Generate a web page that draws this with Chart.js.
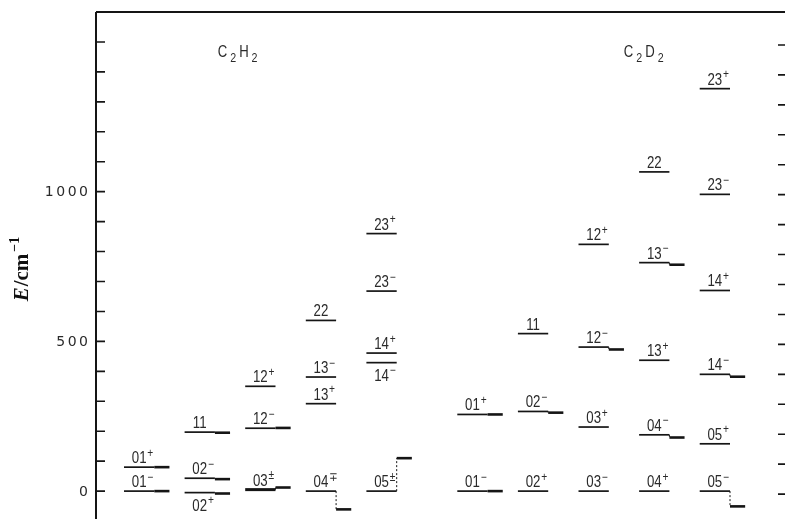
<!DOCTYPE html>
<html>
<head>
<meta charset="utf-8">
<script src="https://cdn.jsdelivr.net/npm/chart.js@4.4.1/dist/chart.umd.min.js"></script>
<style>
  html, body { margin: 0; padding: 0; background: #fff; overflow: hidden; width: 785px; height: 519px; }
  #wrap { position: absolute; left: 0; top: 0; width: 800px; height: 560px; }
</style>
</head>
<body>
<div id="wrap"><canvas id="levels" width="800" height="560"></canvas></div>
<script>
// Torsional / bending level energies (cm^-1) for acetylene and its deuterated form.
// "shifted" is the companion value drawn as the short segment to the right of a level.
const groupTitles = ['C2H2', 'C2D2'];

const h2Label   = ['01+', '01−', '02−', '02+', '11', '03±', '12−', '12+', '04∓', '13+', '13−', '22', '05±', '14−', '14+', '23−', '23+'];
const h2Column  = [0, 0, 1, 1, 1, 2, 2, 2, 3, 3, 3, 3, 4, 4, 4, 4, 4];
const h2Energy  = [80, 0, 43, -5, 197, 5, 210, 350, 0, 292, 381, 570, 0, 429, 461, 668, 860];
const h2Shifted = [80, 0, 40, -8, 195, 12, 211, null, -61, null, null, null, 110, null, null, null, null];
const h2Below   = ['02+', '14−'];

const d2Label   = ['01+', '01−', '02+', '02−', '11', '03−', '03+', '12−', '12+', '04+', '04−', '13+', '13−', '22', '05−', '05+', '14−', '14+', '23−', '23+'];
const d2Column  = [0, 0, 1, 1, 1, 2, 2, 2, 2, 3, 3, 3, 3, 3, 4, 4, 4, 4, 4, 4];
const d2Energy  = [256, 0, 0, 266, 526, 0, 214, 481, 824, 0, 188, 437, 763, 1066, 0, 158, 390, 670, 991, 1344];
const d2Shifted = [256, 0, null, 262, null, null, null, 473, null, null, 179, null, 756, null, -51, null, 382, null, null, null];
const d2Below   = [];

const yTickValues = [0, 500, 1000];
const yTickLabels = ['0', '500', '1000'];

// ---- layout constants (column units on the hidden x scale) ----
const GROUP_OFFSET = [0, 5.5];
const LEVEL_W = 0.5;
const EXT_W = 0.25;
const TITLE_X = [1.9, 8.6];
const INK = '#151515';
const TEXT = '#2a2a2a';
const LABEL_FONT = '"Liberation Sans", "Arimo", "DejaVu Sans", sans-serif';
const NARROW = 0.78;   // horizontal squeeze for the narrow label lettering

const groups = [
  { label: h2Label, col: h2Column, energy: h2Energy, shifted: h2Shifted, below: h2Below },
  { label: d2Label, col: d2Column, energy: d2Energy, shifted: d2Shifted, below: d2Below }
];

const datasets = [];
const labelItems = [];
groups.forEach((g, gi) => {
  g.label.forEach((lab, i) => {
    const x0 = g.col[i] + GROUP_OFFSET[gi];
    const e = g.energy[i];
    // a doubly degenerate pair (±) is drawn as a heavier line
    const degenerate = lab.includes('±') && g.shifted[i] !== null && Math.abs(g.shifted[i] - e) < 20;
    datasets.push({
      data: [{ x: x0, y: e }, { x: x0 + LEVEL_W, y: e }],
      borderColor: INK, borderWidth: degenerate ? 3 : 1.7
    });
    const s = g.shifted[i];
    if (s !== null) {
      datasets.push({
        data: [{ x: x0 + LEVEL_W, y: s }, { x: x0 + LEVEL_W + EXT_W, y: s }],
        borderColor: INK, borderWidth: 2.6
      });
      if (Math.abs(s - e) > 3) {
        datasets.push({
          data: [{ x: x0 + LEVEL_W, y: e }, { x: x0 + LEVEL_W, y: s }],
          borderColor: INK, borderWidth: 1, borderDash: [2, 2]
        });
      }
    }
    labelItems.push({ text: lab, x: x0 + LEVEL_W / 2, e: e, below: g.below.includes(lab) });
  });
});
datasets.forEach(d => { d.showLine = true; d.pointRadius = 0; d.fill = false; d.tension = 0; });

function narrowText(ctx, str, x, y, k) {
  ctx.save();
  ctx.translate(x, y);
  ctx.scale(k, 1);
  ctx.fillText(str, 0, 0);
  ctx.restore();
}

function drawLevelLabel(ctx, text, cx, yLine, below) {
  const main = text.slice(0, 2);
  const sup = text.slice(2);
  ctx.font = '17px ' + LABEL_FONT;
  const w = ctx.measureText(main).width * NARROW;
  const x0 = cx - w / 2;
  const base = below ? yLine + 18 : yLine - 4;
  ctx.textAlign = 'left';
  ctx.textBaseline = 'alphabetic';
  narrowText(ctx, main, x0, base, NARROW);
  if (sup) {
    ctx.font = '12px ' + LABEL_FONT;
    narrowText(ctx, sup, x0 + w + 0.8, base - 6.5, 0.85);
  }
}

function drawFormula(ctx, text, cx, base) {
  // letters at full size, digits as subscripts
  const parts = text.split('').map(ch => ({ ch, sub: /[0-9]/.test(ch) }));
  const bigFont = '16px ' + LABEL_FONT, smallFont = '13px ' + LABEL_FONT;
  let total = 0;
  parts.forEach(p => { ctx.font = p.sub ? smallFont : bigFont; p.w = ctx.measureText(p.ch).width * 0.82 + 3; total += p.w; });
  let x = cx - total / 2;
  ctx.textAlign = 'left';
  parts.forEach(p => {
    ctx.font = p.sub ? smallFont : bigFont;
    narrowText(ctx, p.ch, x, p.sub ? base + 5 : base, 0.82);
    x += p.w;
  });
}

const diagramDecor = {
  id: 'diagramDecor',
  afterDraw(chart) {
    const ctx = chart.ctx;
    const a = chart.chartArea;
    const xs = chart.scales.x, ys = chart.scales.y;
    ctx.save();
    // frame: top edge and left energy axis
    ctx.strokeStyle = INK;
    ctx.lineWidth = 2;
    ctx.beginPath();
    ctx.moveTo(a.left, a.top); ctx.lineTo(chart.width, a.top);
    ctx.moveTo(a.left, a.top); ctx.lineTo(a.left, a.bottom);
    ctx.stroke();

    // inward ticks every 100 cm^-1 on both sides
    ctx.lineWidth = 1.6;
    ys.ticks.forEach(t => {
      if (t.value < -100 || t.value > 1500) return;
      const y = ys.getPixelForValue(t.value);
      ctx.beginPath();
      ctx.moveTo(a.left, y); ctx.lineTo(a.left + 9, y);
      ctx.moveTo(a.right - 8, y + 3); ctx.lineTo(a.right - 1, y + 3);
      ctx.stroke();
    });

    // energy tick labels
    ctx.fillStyle = TEXT;
    ctx.font = '14px "DejaVu Sans", sans-serif';
    ctx.letterSpacing = '2.5px';
    ctx.textAlign = 'right';
    ctx.textBaseline = 'middle';
    yTickValues.forEach((v, i) => {
      ctx.fillText(yTickLabels[i], a.left - 8 + 2.5, ys.getPixelForValue(v) + 1);
    });
    ctx.letterSpacing = '0px';

    // level labels
    ctx.fillStyle = TEXT;
    labelItems.forEach(it => {
      drawLevelLabel(ctx, it.text, xs.getPixelForValue(it.x), ys.getPixelForValue(it.e), it.below);
    });

    // molecule titles
    groupTitles.forEach((t, i) => drawFormula(ctx, t, xs.getPixelForValue(TITLE_X[i]), a.top + 45));

    // axis title E/cm^-1, rotated
    ctx.translate(21, 269);
    ctx.rotate(-Math.PI / 2);
    ctx.fillStyle = '#111';
    ctx.textBaseline = 'alphabetic';
    ctx.textAlign = 'left';
    const fE = 'italic bold 21px "Liberation Serif", "DejaVu Serif", serif';
    const fU = 'bold 21px "Liberation Serif", "DejaVu Serif", serif';
    const fS = 'bold 14px "Liberation Serif", "DejaVu Serif", serif';
    ctx.font = fE; const wE = ctx.measureText('E').width;
    ctx.font = fU; const wU = ctx.measureText('/cm').width;
    ctx.font = fS; const wS = ctx.measureText('−1').width;
    const total = wE + 1 + wU + 2 + wS;
    let x = -total / 2;
    ctx.font = fE; ctx.fillText('E', x, 7); x += wE + 1;
    ctx.font = fU; ctx.fillText('/cm', x, 7); x += wU + 2;
    ctx.font = fS; ctx.fillText('−1', x, -2);
    ctx.restore();
  }
};

new Chart(document.getElementById('levels'), {
  type: 'scatter',
  data: { datasets },
  options: {
    responsive: false,
    animation: false,
    layout: { padding: { left: 0, top: 12, right: 14, bottom: 9 } },
    plugins: { legend: { display: false }, tooltip: { enabled: false } },
    scales: {
      x: { type: 'linear', min: -0.462, max: 10.924, display: false },
      y: {
        type: 'linear', min: -200, max: 1600,
        grid: { display: false }, border: { display: false },
        ticks: { display: false, stepSize: 100 },
        afterFit(scale) { scale.width = 96; }
      }
    }
  },
  plugins: [diagramDecor]
});
</script>
</body>
</html>
